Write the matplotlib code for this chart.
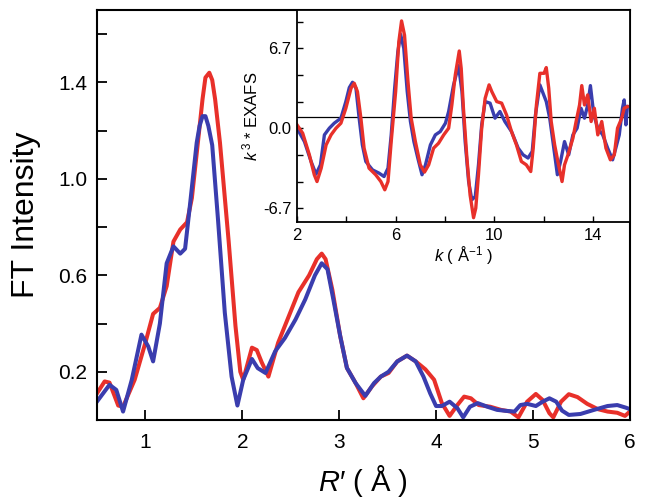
import matplotlib
matplotlib.use("Agg")
import matplotlib.pyplot as plt

plt.rcParams["font.family"] = ["Liberation Sans", "DejaVu Sans"]
plt.rcParams["mathtext.fontset"] = "custom"
plt.rcParams["mathtext.rm"] = "Liberation Sans"
plt.rcParams["mathtext.it"] = "Liberation Sans:italic"

RED = "#e8302a"
BLUE = "#3a3dae"

# main panel: FT magnitude vs R'
r_red = [0.5, 0.58, 0.63, 0.72, 0.77, 0.89, 1.0, 1.08, 1.15, 1.22, 1.29, 1.36, 1.43, 1.48,
         1.55, 1.59, 1.62, 1.66, 1.69, 1.72, 1.77, 1.86, 1.93, 1.98, 2.01, 2.10, 2.15, 2.20, 2.27, 2.37,
         2.48, 2.58, 2.69, 2.77, 2.82, 2.86, 2.93, 3.01, 3.08, 3.17, 3.25, 3.34, 3.43, 3.51,
         3.60, 3.70, 3.79, 3.89, 3.98, 4.06, 4.14, 4.22, 4.29, 4.36, 4.44, 4.56, 4.67, 4.77,
         4.85, 4.94, 5.03, 5.10, 5.17, 5.21, 5.29, 5.37, 5.46, 5.56, 5.67, 5.77, 5.87, 5.95, 6.0]
ft_red = [0.11, 0.16, 0.155, 0.06, 0.055, 0.167, 0.32, 0.44, 0.465, 0.555, 0.74, 0.79, 0.82, 0.92,
          1.18, 1.33, 1.42, 1.44, 1.41, 1.33, 1.15, 0.74, 0.39, 0.20, 0.167, 0.30, 0.29, 0.24, 0.18, 0.32,
          0.43, 0.53, 0.60, 0.667, 0.69, 0.667, 0.54, 0.35, 0.216, 0.153, 0.09, 0.14, 0.18, 0.195,
          0.243, 0.267, 0.243, 0.21, 0.167, 0.07, 0.017, 0.062, 0.097, 0.09, 0.062, 0.055, 0.042, 0.035,
          0.011, 0.076, 0.108, 0.083, 0.028, 0.011, 0.076, 0.107, 0.095, 0.067, 0.045, 0.035, 0.03, 0.017, 0.035]

r_blue = [0.5, 0.63, 0.70, 0.77, 0.86, 0.96, 1.03, 1.08, 1.15, 1.22, 1.29, 1.36, 1.41, 1.46,
          1.53, 1.56, 1.59, 1.62, 1.65, 1.69, 1.75, 1.82, 1.89, 1.95, 2.01, 2.10, 2.16, 2.24, 2.34, 2.44,
          2.55, 2.65, 2.75, 2.82, 2.88, 2.94, 3.01, 3.08, 3.17, 3.27, 3.36, 3.43, 3.51, 3.60,
          3.70, 3.79, 3.87, 3.94, 4.0, 4.06, 4.14, 4.22, 4.28, 4.35, 4.43, 4.53, 4.63, 4.72,
          4.81, 4.87, 4.94, 5.03, 5.10, 5.17, 5.24, 5.30, 5.37, 5.49, 5.63, 5.77, 5.87, 5.96, 6.0]
ft_blue = [0.076, 0.146, 0.125, 0.035, 0.167, 0.354, 0.305, 0.243, 0.40, 0.65, 0.72, 0.69, 0.71, 0.89,
           1.15, 1.22, 1.26, 1.26, 1.22, 1.14, 0.83, 0.445, 0.18, 0.06, 0.167, 0.253, 0.215, 0.195, 0.285, 0.34,
           0.417, 0.50, 0.60, 0.65, 0.625, 0.50, 0.35, 0.216, 0.153, 0.10, 0.153, 0.18, 0.20, 0.243,
           0.267, 0.243, 0.18, 0.11, 0.058, 0.058, 0.076, 0.049, 0.011, 0.055, 0.07, 0.055, 0.042, 0.038,
           0.035, 0.062, 0.067, 0.058, 0.076, 0.09, 0.076, 0.039, 0.021, 0.025, 0.042, 0.058, 0.062, 0.051, 0.045]

# inset: k^3-weighted EXAFS
k_red = [2.0, 2.23, 2.5, 2.7, 2.81, 2.98, 3.18, 3.38, 3.58, 3.78, 3.98, 4.19, 4.32, 4.45, 4.59,
         4.72, 4.92, 5.19, 5.4, 5.56, 5.69, 5.82, 6.0, 6.13, 6.24, 6.36, 6.5, 6.63, 6.8, 7.0,
         7.17, 7.34, 7.54, 7.74, 7.95, 8.15, 8.28, 8.42, 8.58, 8.66, 8.75, 8.89, 9.02, 9.16, 9.25,
         9.36, 9.49, 9.63, 9.79, 9.9, 10.1, 10.3, 10.5, 10.7, 10.9, 11.1, 11.3, 11.48, 11.58, 11.71,
         11.85, 12.02, 12.11, 12.21, 12.31, 12.45, 12.58, 12.75, 12.85, 12.99, 13.19, 13.32, 13.46,
         13.55, 13.66, 13.79, 13.93, 14.06, 14.2, 14.36, 14.53, 14.71, 14.87, 15.0, 15.17, 15.27, 15.4]
chi_red = [0.28, -0.42, -2.23, -3.9, -4.47, -3.35, -1.4, -0.56, 0.0, 0.42, 1.67, 3.35, 3.77, 3.07, 0.84,
           -1.67, -3.35, -3.9, -4.47, -5.16, -4.47, -1.12, 3.07, 7.26, 8.99, 7.8, 3.9, 0.84, -1.12, -3.07,
           -3.68, -3.07, -1.67, -1.26, -0.56, 0.0, 1.95, 4.47, 6.47, 5.0, 1.67, -2.5, -5.6, -7.5, -6.7,
           -3.9, 0.0, 2.5, 3.63, 3.07, 2.23, 2.1, 1.1, -0.28, -1.4, -2.79, -3.07, -3.63, -1.67, 1.95,
           4.6, 4.6, 5.08, 3.35, 0.56, -1.4, -2.79, -4.47, -3.07, -2.23, -0.84, 0.56, 1.95,
           3.57, 1.95, 2.79, 0.56, 1.67, -0.56, 0.56, -1.67, -2.65, -2.23, 0.0, 0.84, 1.67, 1.81]

k_blue = [2.0, 2.3, 2.57, 2.77, 2.95, 3.11, 3.31, 3.51, 3.78, 3.98, 4.12, 4.25, 4.39, 4.52, 4.65,
          4.79, 5.06, 5.33, 5.53, 5.69, 5.82, 5.96, 6.09, 6.2, 6.33, 6.47, 6.6, 6.74, 6.9, 7.07,
          7.21, 7.41, 7.61, 7.81, 8.02, 8.15, 8.35, 8.55, 8.69, 8.82, 8.96, 9.09, 9.23, 9.36, 9.49,
          9.63, 9.83, 10.03, 10.23, 10.43, 10.7, 10.97, 11.17, 11.37, 11.54, 11.67, 11.85, 11.98,
          12.11, 12.25, 12.38, 12.56, 12.69, 12.85, 13.02, 13.19, 13.36, 13.52, 13.66, 13.79, 13.9,
          14.04, 14.2, 14.4, 14.6, 14.8, 14.93, 15.07, 15.2, 15.27, 15.34, 15.4]
chi_blue = [0.0, -1.12, -2.79, -3.85, -3.07, -0.56, 0.0, 0.42, 0.84, 2.23, 3.4, 3.85, 3.35, 0.84, -1.4,
            -2.79, -3.49, -3.77, -4.05, -3.35, -0.56, 3.35, 6.42, 7.87, 6.7, 3.07, 0.56, -1.12, -2.51, -3.9,
            -3.07, -1.4, -0.56, -0.28, 0.42, 1.4, 3.63, 5.25, 3.07, -1.12, -4.47, -6.0, -5.72, -3.07, 0.28,
            2.23, 2.1, 0.84, 1.4, 0.56, -0.28, -1.67, -2.23, -2.5, -1.95, 1.1, 3.63, 2.93,
            2.23, 0.84, -1.12, -3.9, -2.79, -1.12, -2.23, -0.56, 0.0, 1.67, 0.84, 1.95, 3.57,
            1.1, 0.0, -0.56, -1.67, -2.65, -1.67, -0.56, 1.67, 2.37, 0.28, 1.81]

r_ticks = [1, 2, 3, 4, 5, 6]
ft_ticks = [0.2, 0.4, 0.6, 0.8, 1.0, 1.2, 1.4, 1.6]
ft_labels = ["0.2", "", "0.6", "", "1.0", "", "1.4", ""]
k_ticks = [2, 4, 6, 8, 10, 12, 14]
k_labels = ["2", "", "6", "", "10", "", "14"]
chi_ticks = [-6.7, -4.467, -2.233, 0.0, 2.233, 4.467, 6.7, 8.933]
chi_labels = ["-6.7", "", "", "0.0", "", "", "6.7", ""]
chi_ref = 0.9

fig = plt.figure(figsize=(6.46, 5.03), dpi=100)
ax = fig.add_axes([0.150, 0.165, 0.825, 0.815])
ax.plot(r_red, ft_red, color=RED, lw=2.9, solid_joinstyle="round")
ax.plot(r_blue, ft_blue, color=BLUE, lw=2.9, solid_joinstyle="round")
ax.set_xlim(0.5, 6.0)
ax.set_ylim(0.0, 1.7)
ax.set_xticks(r_ticks)
ax.set_xticklabels([str(t) for t in r_ticks])
ax.set_yticks(ft_ticks)
ax.set_yticklabels(ft_labels)
ax.tick_params(direction="in", length=7, width=1.3, labelsize=15, pad=7)
ax.tick_params(axis="x", pad=9)
for s in ax.spines.values():
    s.set_linewidth(1.5)
ax.set_xlabel("$R$′ ( Å )", fontsize=21, labelpad=8)
ax.set_ylabel("FT Intensity", fontsize=23, labelpad=12)

ins = fig.add_axes([0.4598, 0.5577, 0.5152, 0.4223])
ins.set_facecolor("white")
ins.axhline(chi_ref, color="black", lw=0.9)
ins.plot(k_blue, chi_blue, color=BLUE, lw=2.4, solid_joinstyle="round")
ins.plot(k_red, chi_red, color=RED, lw=2.4, solid_joinstyle="round")
ins.set_xlim(2, 15.5)
ins.set_ylim(-7.9, 9.9)
ins.set_xticks(k_ticks)
ins.set_xticklabels(k_labels)
ins.set_yticks(chi_ticks)
ins.set_yticklabels(chi_labels)
ins.tick_params(direction="in", length=4, width=1.0, labelsize=12, pad=4)
for s in ins.spines.values():
    s.set_linewidth(1.3)
ins.set_xlabel("$k$ ( Å$^{-1}$ )", fontsize=12, labelpad=1)
ins.set_ylabel("$k^{\\,3}$ * EXAFS", fontsize=12, labelpad=2)

fig.savefig("out.png", dpi=100)
